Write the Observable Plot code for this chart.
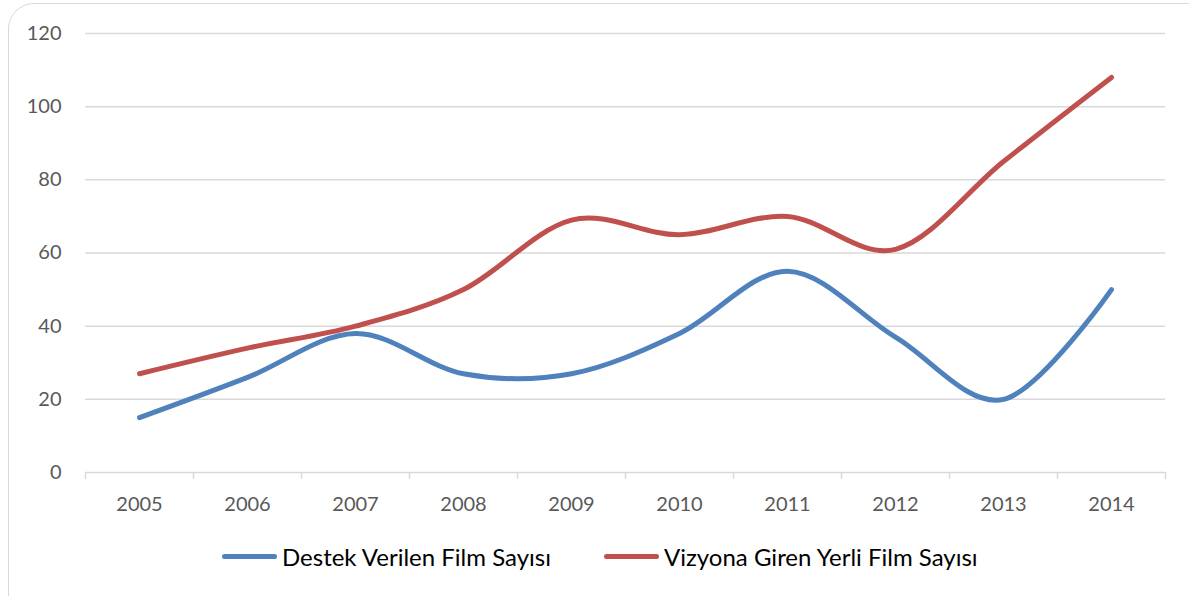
<!DOCTYPE html>
<html>
<head>
<meta charset="utf-8">
<script src="https://cdn.jsdelivr.net/npm/d3@7"></script>
<script src="https://cdn.jsdelivr.net/npm/@observablehq/plot@0.6"></script>
<style>
  html, body { margin: 0; padding: 0; background: #fff; width: 1189px; height: 596px; overflow: hidden; }
  #frame { position: absolute; left: 8px; top: 3px; width: 1210px; height: 620px; border: 1.5px solid #d9d9d9; border-radius: 26px; box-sizing: border-box; }
  #chart { position: absolute; left: 0; top: 0; }
  #legend { position: absolute; left: 222px; top: 542px; display: flex; align-items: center; font-family: Lato, "Open Sans", sans-serif; font-size: 24px; color: #000; }
  .item { display: flex; align-items: center; margin-right: 53px; }
  .sw { width: 55px; height: 5px; border-radius: 3px; margin-right: 5px; }
</style>
</head>
<body>
<div id="frame"></div>
<div id="chart"></div>
<div id="legend"></div>
<script>
const years = [2005, 2006, 2007, 2008, 2009, 2010, 2011, 2012, 2013, 2014];
const destek = [15, 26, 38, 27, 27, 38, 55, 37, 20, 50];
const vizyon = [27, 34, 40, 50, 69, 65, 70, 61, 85, 108];
const seriesNames = ["Destek Verilen Film Sayısı", "Vizyona Giren Yerli Film Sayısı"];
const seriesColors = ["#4f81bd", "#c0504d"];
const yTicks = [0, 20, 40, 60, 80, 100, 120];
const xBoundaries = [2004.5, 2005.5, 2006.5, 2007.5, 2008.5, 2009.5, 2010.5, 2011.5, 2012.5, 2013.5, 2014.5];

const rows = [
  ...years.map((year, i) => ({year, value: destek[i], series: seriesNames[0]})),
  ...years.map((year, i) => ({year, value: vizyon[i], series: seriesNames[1]}))
];

const chart = Plot.plot({
  width: 1189,
  height: 530,
  marginLeft: 85,
  marginRight: 24,
  marginTop: 33,
  marginBottom: 58,
  x: {type: "linear", domain: [2004.5, 2014.5]},
  y: {domain: [0, 120]},
  color: {domain: seriesNames, range: seriesColors},
  style: {fontFamily: "Lato, 'Open Sans', sans-serif", fontSize: "20px", color: "#595959", background: "transparent", overflow: "visible"},
  marks: [
    Plot.gridY(yTicks.filter(d => d > 0), {stroke: "#d9d9d9", strokeOpacity: 1, strokeWidth: 1.5}),
    Plot.ruleY([0], {stroke: "#d9d9d9", strokeOpacity: 1, strokeWidth: 1.5}),
    Plot.axisX(xBoundaries, {tickSize: 7, tickFormat: () => "", stroke: "#d9d9d9", strokeWidth: 1.5, strokeOpacity: 1, label: null}),
    Plot.axisX(years, {tickSize: 0, tickPadding: 24, tickFormat: d => String(d), fill: "#595959", label: null}),
    Plot.axisY(yTicks, {tickSize: 0, tickPadding: 24, fill: "#595959", label: null}),
    Plot.line(rows, {x: "year", y: "value", z: "series", stroke: "series", curve: "cardinal", strokeWidth: 5, strokeLinecap: "round", strokeLinejoin: "round"})
  ]
});
document.getElementById("chart").appendChild(chart);

const legend = document.getElementById("legend");
seriesNames.forEach((name, i) => {
  const item = document.createElement("div");
  item.className = "item";
  const sw = document.createElement("span");
  sw.className = "sw";
  sw.style.background = seriesColors[i];
  const label = document.createElement("span");
  label.textContent = name;
  item.appendChild(sw);
  item.appendChild(label);
  legend.appendChild(item);
});
</script>
</body>
</html>
